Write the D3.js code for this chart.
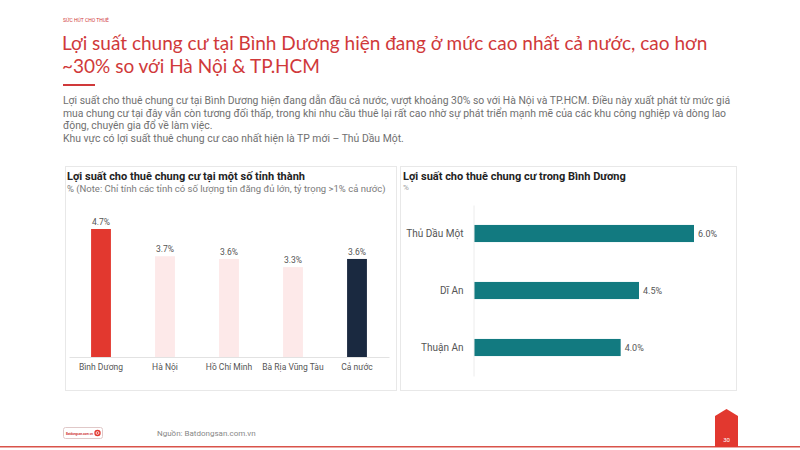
<!DOCTYPE html>
<html>
<head>
<meta charset="utf-8">
<script src="https://cdn.jsdelivr.net/npm/d3@7"></script>
<style>
  html, body { margin: 0; padding: 0; background: #fff; }
  svg { display: block; }
</style>
</head>
<body>
<svg id="chart" width="800" height="450"></svg>
<script>
// ---- Data ----
const provinces = ["Bình Dương", "Hà Nội", "Hồ Chí Minh", "Bà Rịa Vũng Tàu", "Cả nước"];
const provinceYield = [4.7, 3.7, 3.6, 3.3, 3.6];
const provinceColors = ["#e2382f", "#fde9e9", "#fde9e9", "#fde9e9", "#1a2940"];

const districts = ["Thủ Dầu Một", "Dĩ An", "Thuận An"];
const districtYield = [6.0, 4.5, 4.0];

const headerLabel = "SỨC HÚT CHO THUÊ";
const titleLines = [
  "Lợi suất chung cư tại Bình Dương hiện đang ở mức cao nhất cả nước, cao hơn",
  "~30% so với Hà Nội & TP.HCM"
];
const paragraphLines = [
  "Lợi suất cho thuê chung cư tại Bình Dương hiện đang dẫn đầu cả nước, vượt khoảng 30% so với Hà Nội và TP.HCM. Điều này xuất phát từ mức giá",
  "mua chung cư tại đây vẫn còn tương đối thấp, trong khi nhu cầu thuê lại rất cao nhờ sự phát triển mạnh mẽ của các khu công nghiệp và dòng lao",
  "động, chuyên gia đổ về làm việc.",
  "Khu vực có lợi suất thuê chung cư cao nhất hiện là TP mới – Thủ Dầu Một."
];
const leftTitle = "Lợi suất cho thuê chung cư tại một số tỉnh thành";
const leftSubtitle = "% (Note: Chỉ tính các tỉnh có số lượng tin đăng đủ lớn, tỷ trọng >1% cả nước)";
const rightTitle = "Lợi suất cho thuê chung cư trong Bình Dương";
const rightSubtitle = "%";
const sourceText = "Nguồn: Batdongsan.com.vn";
const logoText = "Batdongsan.com.vn";
const pageNumber = "30";

// ---- Drawing ----
const svg = d3.select("#chart");
const RED = "#d0393a";
const FONT = "Roboto, 'Noto Sans', sans-serif";
const TITLE_FONT = "Lato, 'Open Sans', sans-serif";

// Header
svg.append("text").attr("x", 63).attr("y", 22)
  .attr("font-family", FONT).attr("font-size", 5).attr("fill", RED)
  .text(headerLabel);

svg.append("g").selectAll("text").data(titleLines).join("text")
  .attr("x", 62).attr("y", (d, i) => 50 + i * 22.5)
  .attr("font-family", TITLE_FONT).attr("font-size", 19).attr("fill", RED)
  .text(d => d);

svg.append("rect").attr("x", 63).attr("y", 84).attr("width", 32).attr("height", 2).attr("fill", RED);

svg.append("g").selectAll("text").data(paragraphLines).join("text")
  .attr("x", 63).attr("y", (d, i) => 104 + i * 12.5)
  .attr("font-family", FONT).attr("font-size", 10.4).attr("fill", "#707070")
  .text(d => d);

// Panels
const panelStroke = "#e8e8e8";
svg.append("rect").attr("x", 65.5).attr("y", 166.5).attr("width", 331).attr("height", 224)
  .attr("fill", "none").attr("stroke", panelStroke);
svg.append("rect").attr("x", 400.5).attr("y", 166.5).attr("width", 336).attr("height", 224)
  .attr("fill", "none").attr("stroke", panelStroke);

// Left chart
svg.append("text").attr("x", 67).attr("y", 180)
  .attr("font-family", FONT).attr("font-weight", "bold").attr("font-size", 11).attr("fill", "#222")
  .text(leftTitle);
svg.append("text").attr("x", 67).attr("y", 192)
  .attr("font-family", FONT).attr("font-size", 9.5).attr("fill", "#7a7a7a")
  .text(leftSubtitle);

const xL = d3.scaleBand().domain(provinces).range([69, 389]).paddingInner(0.69).paddingOuter(0.345);
const yL = d3.scaleLinear().domain([0, 4.7]).range([357, 229]);

const gL = svg.append("g");
gL.selectAll("rect.bar").data(provinces).join("rect").attr("class", "bar")
  .attr("x", d => xL(d)).attr("width", xL.bandwidth())
  .attr("y", (d, i) => yL(provinceYield[i]))
  .attr("height", (d, i) => yL(0) - yL(provinceYield[i]))
  .attr("fill", (d, i) => provinceColors[i]);
gL.selectAll("text.val").data(provinces).join("text").attr("class", "val")
  .attr("x", d => xL(d) + xL.bandwidth() / 2)
  .attr("y", (d, i) => yL(provinceYield[i]) - 4)
  .attr("text-anchor", "middle")
  .attr("font-family", FONT).attr("font-size", 8.5).attr("fill", "#555")
  .text((d, i) => provinceYield[i].toFixed(1) + "%");

const axL = svg.append("g").attr("transform", "translate(0,357)")
  .call(d3.axisBottom(xL).tickSize(0).tickPadding(7));
axL.select(".domain").attr("stroke", "#e2e2e2");
axL.selectAll("text").attr("font-family", FONT).attr("font-size", 8.5).attr("fill", "#555");

// Right chart
svg.append("text").attr("x", 403).attr("y", 180)
  .attr("font-family", FONT).attr("font-weight", "bold").attr("font-size", 11).attr("fill", "#222")
  .text(rightTitle);
svg.append("text").attr("x", 403).attr("y", 190)
  .attr("font-family", FONT).attr("font-size", 8).attr("fill", "#9a9a9a")
  .text(rightSubtitle);

const xR = d3.scaleLinear().domain([0, 6.0]).range([474, 694]);
const yR = d3.scaleBand().domain(districts).range([205, 376]).paddingInner(0.7).paddingOuter(0.35);

const gR = svg.append("g");
gR.selectAll("rect").data(districts).join("rect")
  .attr("x", xR(0)).attr("y", d => yR(d))
  .attr("width", (d, i) => xR(districtYield[i]) - xR(0))
  .attr("height", yR.bandwidth())
  .attr("fill", "#127a80");
gR.selectAll("text").data(districts).join("text")
  .attr("x", (d, i) => xR(districtYield[i]) + 4)
  .attr("y", d => yR(d) + yR.bandwidth() / 2)
  .attr("dy", "0.35em")
  .attr("font-family", FONT).attr("font-size", 9).attr("fill", "#555")
  .text((d, i) => districtYield[i].toFixed(1) + "%");

const axR = svg.append("g").attr("transform", "translate(473.5,0)")
  .call(d3.axisLeft(yR).tickSize(0).tickPadding(10));
axR.select(".domain").attr("stroke", "#ececec");
axR.selectAll("text").attr("font-family", FONT).attr("font-size", 10).attr("fill", "#555");

// Footer
const logo = svg.append("g");
logo.append("rect").attr("x", 63.5).attr("y", 427.5).attr("width", 39).attr("height", 11).attr("rx", 2)
  .attr("fill", "#fff").attr("stroke", "#e0c8c8");
logo.append("text").attr("x", 66).attr("y", 435)
  .attr("font-family", FONT).attr("font-weight", "bold").attr("font-size", 4.4).attr("fill", RED)
  .attr("textLength", 27).attr("lengthAdjust", "spacingAndGlyphs")
  .text(logoText);
logo.append("circle").attr("cx", 97.5).attr("cy", 433).attr("r", 3.2).attr("fill", "#e2382f");
logo.append("circle").attr("cx", 97.5).attr("cy", 433).attr("r", 1.4).attr("fill", "none").attr("stroke", "#fff").attr("stroke-width", 0.8);

svg.append("text").attr("x", 157).attr("y", 436)
  .attr("font-family", FONT).attr("font-size", 8).attr("fill", "#888")
  .text(sourceText);

svg.append("rect").attr("x", 0).attr("y", 446).attr("width", 800).attr("height", 1.5).attr("fill", "#d9534a");
svg.append("path").attr("d", "M715,447 L715,416 L726.5,409 L738,416 L738,447 Z").attr("fill", "#e2382f");
svg.append("text").attr("x", 726.5).attr("y", 442).attr("text-anchor", "middle")
  .attr("font-family", FONT).attr("font-size", 6).attr("fill", "#fff")
  .text(pageNumber);
</script>
</body>
</html>
